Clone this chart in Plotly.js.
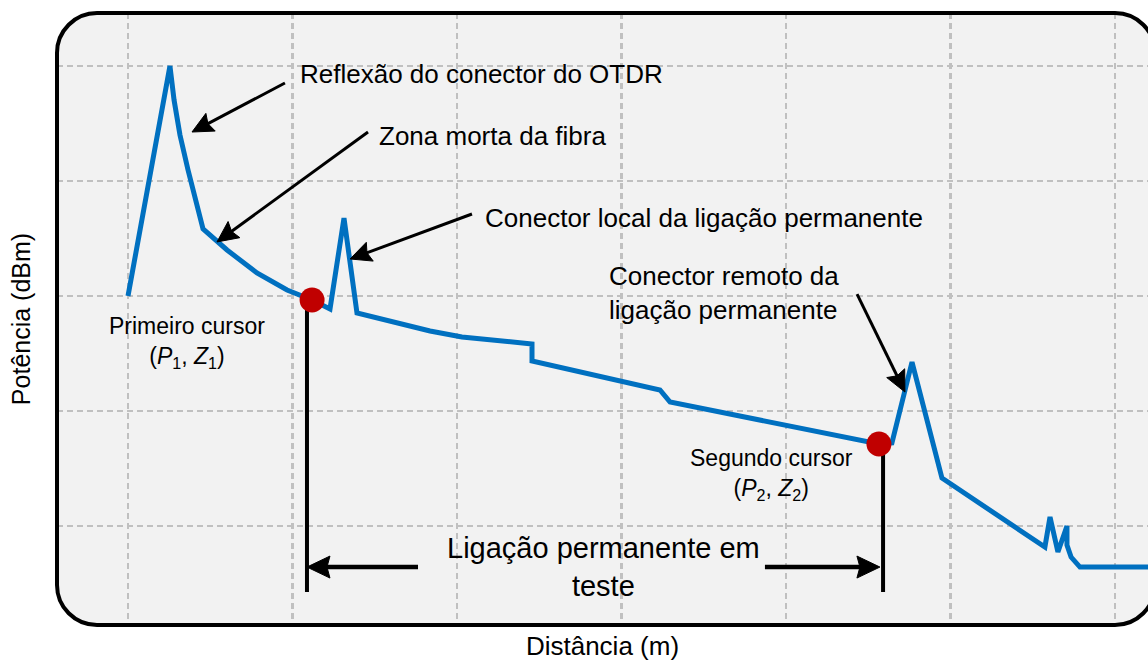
<!DOCTYPE html>
<html>
<head>
<meta charset="utf-8">
<script src="https://cdn.plot.ly/plotly-3.0.1.min.js"></script>
<style>html,body{margin:0;padding:0;background:#fff;}#chart{width:1148px;height:661px;}</style>
</head>
<body>
<div id="chart"></div>
<script>
// ---- data (arbitrary grid units: 1 unit = one grid division) ----
const gridX = [0, 1, 2, 3, 4, 5, 6];
const gridY = [0, 1, 2, 3, 4];

const traceDist = [0, 0.255, 0.280, 0.316, 0.365, 0.413, 0.456, 0.602, 0.784, 0.967, 1.119, 1.228, 1.313, 1.392,
  1.635, 1.836, 2.030, 2.243, 2.456, 2.456, 3.234, 3.295, 4.328, 4.565, 4.644, 4.766, 4.948, 5.574, 5.605, 5.653,
  5.708, 5.708, 5.733, 5.787, 6.30];
const tracePower = [2.000, 4.000, 3.704, 3.400, 3.096, 2.835, 2.583, 2.400, 2.200, 2.052, 1.965, 1.887, 2.678, 1.852,
  1.765, 1.696, 1.643, 1.609, 1.583, 1.435, 1.183, 1.078, 0.783, 0.713, 0.722, 1.426, 0.417, -0.183, 0.078, -0.226,
  0.000, -0.165, -0.270, -0.357, -0.357];

const cursorDist = [1.119, 4.565];
const cursorPower = [1.965, 0.713];
const cursorLineDist = [1.088, 4.590];
const cursorLineBottom = -0.574;

const spanY = -0.357;
const spanLeft = [1.763, 1.088];   // tail, tip
const spanRight = [3.872, 4.571];  // tail, tip

// callouts
const calloutTexts = ["Reflexão do conector do OTDR", "Zona morta da fibra",
  "Conector local da ligação permanente", "Conector remoto da<br>ligação permanente"];
const calloutTextX = [1.033, 1.514, 2.158, 2.912];
const calloutTextY = [3.930, 3.391, 2.678, 2.026];
const calloutTailX = [0.954, 1.459, 2.091, 4.432];
const calloutTailY = [3.852, 3.426, 2.713, 2.017];
const calloutTipX = [0.389, 0.541, 1.350, 4.723];
const calloutTipY = [3.426, 2.470, 2.322, 1.165];

const cursorLabels = ["Primeiro cursor<br>(<i>P</i><sub>1</sub>, <i>Z</i><sub>1</sub>)",
  "Segundo cursor<br>(<i>P</i><sub>2</sub>, <i>Z</i><sub>2</sub>)"];
const cursorLabelX = [0.359, 3.909];
const cursorLabelY = [1.600, 0.452];

const spanLabel = "Ligação permanente em<br>teste";
const spanLabelX = 2.888;

// ---- layout geometry ----
const W = 1148, H = 661;
const M = {l: 57, r: 0, t: 13, b: 36};
const pw = W - M.l - M.r, ph = H - M.t - M.b;
const xRange = [(57 - 128) / 164.5, (1148 - 128) / 164.5];
const yRange = [(526 - 625) / 115, (526 - 13) / 115];
const sx = pw / (xRange[1] - xRange[0]);
const sy = ph / (yRange[1] - yRange[0]);

function P(px, py) { return ((px - M.l) / pw).toFixed(5) + ',' + ((H - M.b - py) / ph).toFixed(5); }
function framePath(L, T, R, B, r) {
  const k = 0.5523 * r;
  return 'M' + P(L + r, T) + ' L' + P(R - r, T) +
    ' C' + P(R - r + k, T) + ' ' + P(R, T + r - k) + ' ' + P(R, T + r) +
    ' L' + P(R, B - r) +
    ' C' + P(R, B - r + k) + ' ' + P(R - r + k, B) + ' ' + P(R - r, B) +
    ' L' + P(L + r, B) +
    ' C' + P(L + r - k, B) + ' ' + P(L, B - r + k) + ' ' + P(L, B - r) +
    ' L' + P(L, T + r) +
    ' C' + P(L, T + r - k) + ' ' + P(L + r - k, T) + ' ' + P(L + r, T) + ' Z';
}
const fp = framePath(57, 13, 1155, 625, 40);

// arrow (line + filled head) as shapes, head sized in pixels
function arrowShapes(x0, y0, x1, y1, w, hl, hw) {
  const dx = (x1 - x0) * sx, dy = (y1 - y0) * sy;
  const L = Math.hypot(dx, dy), ux = dx / L, uy = dy / L;
  const px = -uy, py = ux;
  const pt = (a, b) => [x1 + (a * ux + b * px) / sx, y1 + (a * uy + b * py) / sy];
  const c1 = pt(-hl, hw), c2 = pt(-hl, -hw), notch = pt(-hl + 3, 0), le = pt(-hl + 4, 0);
  return [
    {type: 'line', xref: 'x', yref: 'y', x0: x0, y0: y0, x1: le[0], y1: le[1],
      line: {color: '#000', width: w}, layer: 'above'},
    {type: 'path', xref: 'x', yref: 'y', layer: 'above',
      path: 'M' + x1 + ',' + y1 + ' L' + c1[0] + ',' + c1[1] + ' L' + notch[0] + ',' + notch[1] +
        ' L' + c2[0] + ',' + c2[1] + ' Z',
      fillcolor: '#000', line: {color: '#000', width: 1}}
  ];
}

const FONT = 'Arial, "Liberation Sans", sans-serif';

const traces = [];
traces.push({
  x: traceDist, y: tracePower, type: 'scatter', mode: 'lines',
  line: {color: '#0070c0', width: 5, shape: 'linear'}, hoverinfo: 'skip'
});
for (let i = 0; i < cursorLineDist.length; i++) {
  traces.push({
    x: [cursorLineDist[i], cursorLineDist[i]], y: [cursorPower[i], cursorLineBottom],
    type: 'scatter', mode: 'lines', line: {color: '#000', width: 4}, hoverinfo: 'skip'
  });
}
traces.push({
  x: cursorDist, y: cursorPower, type: 'scatter', mode: 'markers',
  marker: {color: '#c00000', size: 25, line: {width: 0}}, hoverinfo: 'skip', cliponaxis: false
});

const annotations = [];
let arrowShapesList = [];
for (let i = 0; i < calloutTexts.length; i++) {
  annotations.push({
    x: calloutTextX[i], y: calloutTextY[i], xref: 'x', yref: 'y', text: calloutTexts[i],
    showarrow: false, xanchor: 'left', yanchor: 'middle', align: 'left',
    font: {family: FONT, size: 26, color: '#000'}
  });
  arrowShapesList = arrowShapesList.concat(
    arrowShapes(calloutTailX[i], calloutTailY[i], calloutTipX[i], calloutTipY[i], 3, 21, 10));
}
for (let i = 0; i < cursorLabels.length; i++) {
  annotations.push({
    x: cursorLabelX[i], y: cursorLabelY[i], xref: 'x', yref: 'y', text: cursorLabels[i],
    showarrow: false, xanchor: 'center', yanchor: 'middle', align: 'center',
    font: {family: FONT, size: 23, color: '#000'}
  });
}
annotations.push({
  x: spanLabelX, y: spanY, xref: 'x', yref: 'y', text: spanLabel,
  showarrow: false, xanchor: 'center', yanchor: 'middle', align: 'center',
  font: {family: FONT, size: 29, color: '#000'}
});
arrowShapesList = arrowShapesList.concat(arrowShapes(spanLeft[0], spanY, spanLeft[1], spanY, 4.5, 23, 11));
arrowShapesList = arrowShapesList.concat(arrowShapes(spanRight[0], spanY, spanRight[1], spanY, 4.5, 23, 11));

const layout = {
  width: W, height: H,
  margin: M,
  paper_bgcolor: '#ffffff',
  plot_bgcolor: 'rgba(0,0,0,0)',
  showlegend: false,
  hovermode: false,
  font: {family: FONT, color: '#000'},
  xaxis: {
    range: xRange,
    tickmode: 'array', tickvals: gridX, showticklabels: false, ticks: '',
    showgrid: true, gridcolor: '#c0c0c0', gridwidth: 2.5, griddash: '6px,4px',
    zeroline: false, showline: false, fixedrange: true,
    title: {text: 'Distância (m)', font: {family: FONT, size: 26, color: '#000'}, standoff: 14}
  },
  yaxis: {
    range: yRange,
    tickmode: 'array', tickvals: gridY, showticklabels: false, ticks: '',
    showgrid: true, gridcolor: '#c0c0c0', gridwidth: 2.5, griddash: '6px,4px',
    zeroline: false, showline: false, fixedrange: true,
    title: {text: 'Potência (dBm)', font: {family: FONT, size: 25, color: '#000'}, standoff: 18}
  },
  shapes: [
    {type: 'path', xref: 'paper', yref: 'paper', path: fp, fillcolor: '#f2f2f2', line: {width: 0}, layer: 'below'}
  ].concat(arrowShapesList).concat([
    {type: 'path', xref: 'paper', yref: 'paper', path: fp, fillcolor: 'rgba(0,0,0,0)', line: {color: '#000', width: 4}, layer: 'above'}
  ]),
  annotations: annotations
};

Plotly.newPlot('chart', traces, layout, {displayModeBar: false, staticPlot: true});
</script>
</body>
</html>
